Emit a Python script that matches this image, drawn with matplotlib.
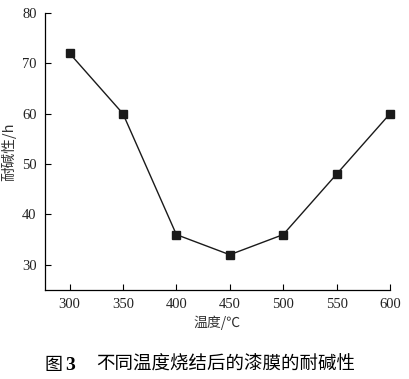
import numpy as np
import matplotlib.pyplot as plt

temps = [300, 350, 400, 450, 500, 550, 600]
resist = [72, 60, 36, 32, 36, 48, 60]
xticks = [300, 350, 400, 450, 500, 550, 600]
yticks = [30, 40, 50, 60, 70, 80]

cjk = ['Noto Sans CJK SC', 'DejaVu Sans']
serif = ['Liberation Serif', 'Noto Sans CJK SC']

fig = plt.figure(figsize=(4.09, 3.79), dpi=100)
ax = fig.add_axes([45/409, 1-290/379, (390-45)/409, (290-13)/379])

ax.plot(temps, resist, color='#1a1a1a', lw=1.0, marker='s', ms=6,
        mfc='#1a1a1a', mec='#1a1a1a', clip_on=False)

ax.set_xlim(277, 600)
ax.set_ylim(25, 80)
ax.set_xticks(xticks)
ax.set_yticks(yticks)
for s in ['top', 'right']:
    ax.spines[s].set_visible(False)
for s in ['left', 'bottom']:
    ax.spines[s].set_linewidth(0.9)
ax.tick_params(direction='in', length=4, width=0.8, labelsize=10.5, pad=6)
for lab in ax.get_xticklabels() + ax.get_yticklabels():
    lab.set_family(serif)
    lab.set_color('#222222')

ax.set_xlabel('温度/℃', family=cjk, fontsize=10, color='#333333', labelpad=3)
ax.set_ylabel('耐碱性/h', family=cjk, fontsize=10.5, color='#333333', labelpad=4)

ty = 1 - 365/379
fig.text(45/409, ty, '图', family=cjk, fontsize=13, va='center', ha='left')
fig.text(65/409, ty, '3', family=serif, fontsize=14, fontweight='bold', va='center', ha='left')
fig.text(96/409, ty, '不同温度烧结后的漆膜的耐碱性', family=cjk, fontsize=13.3, va='center', ha='left')

fig.savefig('out.png', dpi=100)
